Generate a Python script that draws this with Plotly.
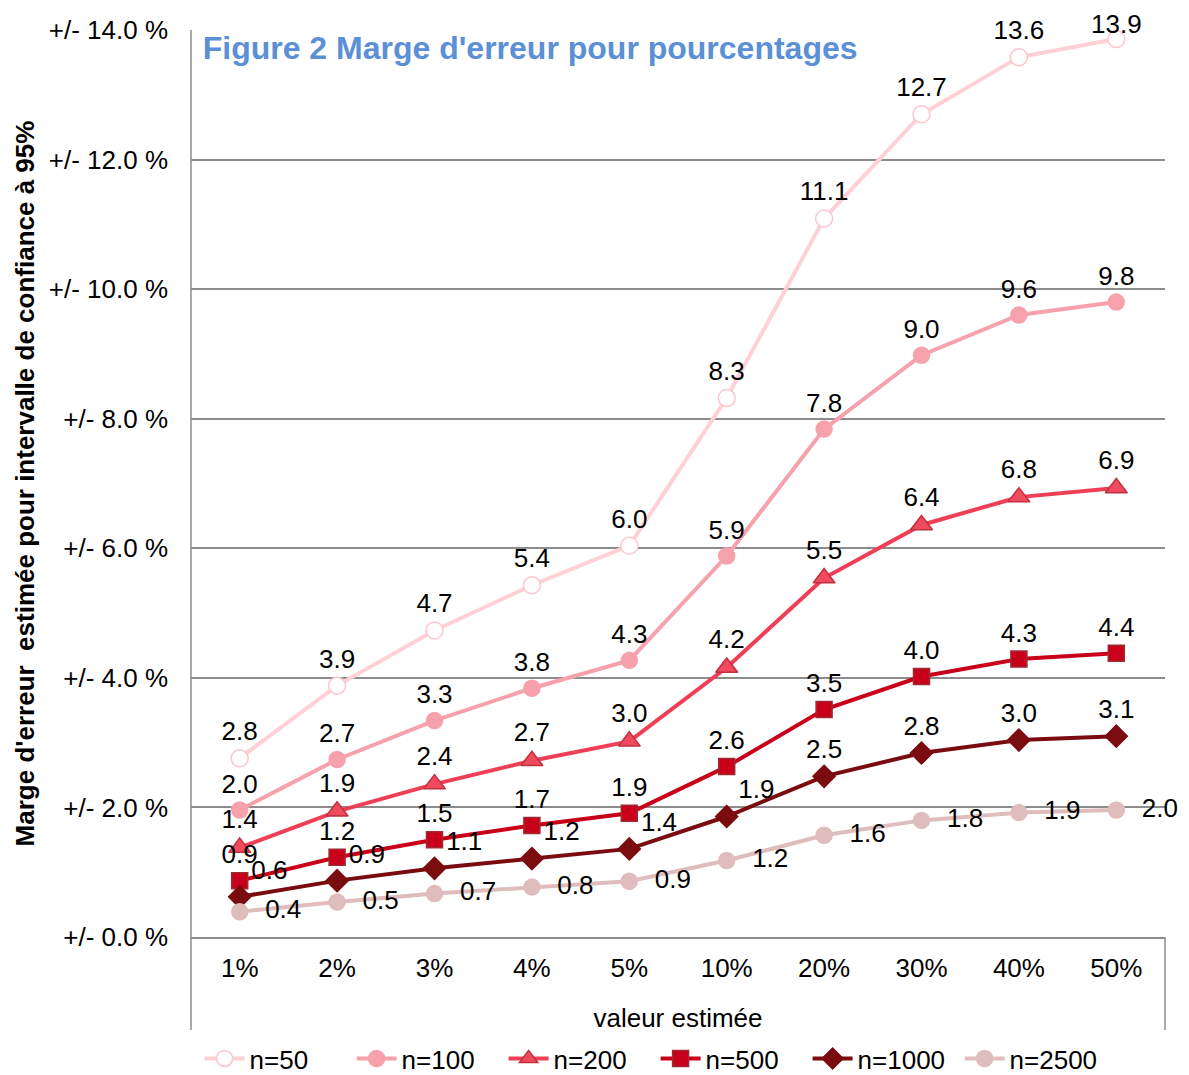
import plotly.graph_objects as go

# category axis and y ticks
categories = ["1%", "2%", "3%", "4%", "5%", "10%", "20%", "30%", "40%", "50%"]
y_ticks = [0, 2, 4, 6, 8, 10, 12, 14]
y_ticktext = [f"+/- {v:.1f} %" for v in y_ticks]

# margin of error (95% CI) per sample size
n50 = [2.76, 3.88, 4.73, 5.43, 6.04, 8.32, 11.09, 12.70, 13.58, 13.86]
n100 = [1.96, 2.74, 3.34, 3.84, 4.27, 5.88, 7.84, 8.98, 9.60, 9.80]
n200 = [1.38, 1.94, 2.36, 2.72, 3.02, 4.16, 5.54, 6.36, 6.79, 6.93]
n500 = [0.87, 1.23, 1.50, 1.72, 1.91, 2.63, 3.51, 4.02, 4.29, 4.38]
n1000 = [0.62, 0.87, 1.06, 1.21, 1.36, 1.86, 2.48, 2.84, 3.04, 3.10]
n2500 = [0.39, 0.54, 0.67, 0.77, 0.86, 1.18, 1.57, 1.80, 1.92, 1.96]

FONT = "Liberation Sans, Arial, sans-serif"
GRID = "#8c8c8c"
FS = 26

series = [
    # name, values, line colour, marker symbol, marker fill, marker border, size, text position
    ("n=50", n50, "#ffd0d6", "circle", "white", "#ffc4cc", 17, "top center"),
    ("n=100", n100, "#f7a1ac", "circle", "#f7a1ac", "#f7a1ac", 16, "top center"),
    ("n=200", n200, "#ef3f56", "triangle-up", "#ef4a5e", "#c0303f", 19, "top center"),
    ("n=500", n500, "#c8001a", "square", "#c8001a", "#a02a33", 16, "top center"),
    ("n=1000", n1000, "#7a0c10", "diamond", "#7a0c10", "#7a0c10", 17,
     ["top right"] * 6 + ["top center"] * 4),
    ("n=2500", n2500, "#dfbdbd", "circle", "#dfbdbd", "#dfbdbd", 16, "middle right"),
]

fig = go.Figure()
for name, vals, color, symbol, fill, border, size, tpos in series:
    prefix = "\u00a0\u00a0" if name == "n=2500" else ""
    labels = [f"{prefix}{v:.1f}" for v in vals]
    if name == "n=50":
        # top label is drawn as an annotation, tucked closer to its marker
        labels[-1] = ""
    fig.add_trace(go.Scatter(
        x=categories,
        y=vals,
        name=name,
        mode="lines+markers+text",
        line=dict(color=color, width=4),
        marker=dict(symbol=symbol, size=size, color=fill,
                    line=dict(color=border, width=1.5)),
        text=labels,
        textposition=tpos,
        textfont=dict(family=FONT, size=FS, color="black"),
        cliponaxis=False,
    ))

fig.add_annotation(
    x=categories[-1], y=n50[-1], text=f"{n50[-1]:.1f}",
    showarrow=False, yshift=15,
    font=dict(family=FONT, size=FS, color="black"),
)

# page body adds an 8px offset, so margins are shifted to compensate
fig.update_layout(
    width=1181,
    height=1100,
    margin=dict(l=183, r=24, t=22, b=171),
    paper_bgcolor="white",
    plot_bgcolor="white",
    font=dict(family=FONT, size=FS, color="black"),
    title=dict(
        text="<b>Figure 2 Marge d'erreur pour pourcentages</b>",
        font=dict(family=FONT, size=32, color="#5b8fd6"),
        xref="paper", yref="paper", x=0.012, y=0.98,
        xanchor="left", yanchor="middle",
        automargin=False,
    ),
    showlegend=True,
    legend=dict(
        orientation="h",
        x=0.477, xanchor="center",
        y=-0.134, yanchor="middle",
        font=dict(family=FONT, size=FS),
        itemwidth=40,
        entrywidth=97,
        entrywidthmode="pixels",
        traceorder="normal",
    ),
    shapes=[
        # Excel-style plot-area frame pieces
        dict(type="line", xref="paper", yref="paper", x0=0, x1=0, y0=-0.1025, y1=1,
             line=dict(color=GRID, width=1.5)),
        dict(type="line", xref="paper", yref="paper", x0=1, x1=1, y0=-0.1025, y1=0,
             line=dict(color=GRID, width=1.5)),
    ],
)

fig.update_xaxes(
    type="category",
    range=[-0.5, 9.5],
    automargin=False,
    showgrid=False,
    showline=True,
    linecolor=GRID,
    linewidth=1.5,
    ticks="",
    ticklabelstandoff=7,
    tickfont=dict(family=FONT, size=FS),
    title=dict(text="valeur estimée", font=dict(family=FONT, size=FS), standoff=27),
)

fig.update_yaxes(
    range=[0, 14],
    automargin=False,
    tickvals=y_ticks,
    ticktext=y_ticktext,
    showgrid=True,
    gridcolor=GRID,
    gridwidth=1.5,
    zeroline=False,
    showline=False,
    ticks="",
    ticklabelstandoff=22,
    tickfont=dict(family=FONT, size=FS),
    title=dict(text="<b>Marge d'erreur  estimée pour intervalle de confiance à 95%</b>",
               font=dict(family=FONT, size=FS), standoff=6),
)

fig.write_html("out.html")
